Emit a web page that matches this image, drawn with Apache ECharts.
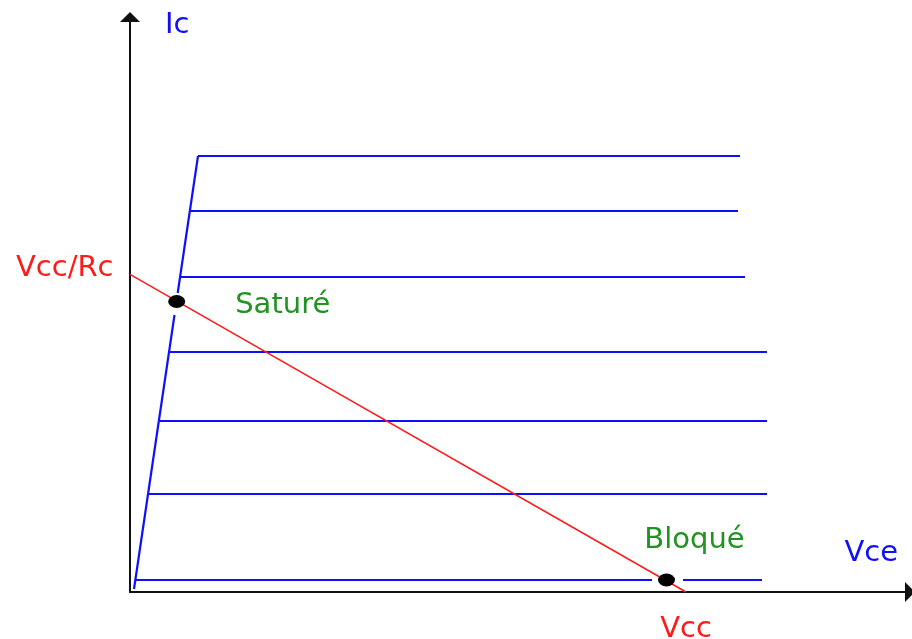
<!DOCTYPE html>
<html>
<head>
<meta charset="utf-8">
<script src="https://cdn.jsdelivr.net/npm/echarts@6/dist/echarts.min.js"></script>
<style>
  html, body { margin: 0; padding: 0; background: #fff; }
  #chart { width: 912px; height: 639px; }
</style>
</head>
<body>
<div id="chart"></div>
<script>
// units: x = Vce, y = Ic (arbitrary)
var slopeLow = [[4, 3], [44.5, 277]];     // saturation edge, below the dot
var slopeHigh = [[47.7, 299], [68, 436]]; // saturation edge, above the dot
var curveIc = [436, 381, 315, 240, 171, 98, 12];
var curveStart = [68, 60, 50, 38, 30, 18, 5];
var curveEnd = [610, 608, 615, 637, 637, 637, 632];
var bottomGap = [522, 553];               // bottom curve is cut around the Bloqué dot

var loadLine = [[0, 317.7], [556, 0]];
var loadLabels = ['Vcc/Rc', 'Vcc'];
var points = [[46.7, 290.5], [536.5, 12]];
var pointNames = ['Saturé', 'Bloqué'];

var BLUE = '#0f0fff';
var RED = '#ff1a1a';
var GREEN = '#219321';
var FONT = 'DejaVu Sans';
var FS = 29;

var chartDom = document.getElementById('chart');
var myChart = echarts.init(chartDom);

var series = [];

function blueLine(data) {
  series.push({
    type: 'line',
    data: data,
    symbol: 'none',
    silent: true,
    lineStyle: { color: BLUE, width: 2.2 },
    z: 2
  });
}

blueLine(slopeLow);
blueLine(slopeHigh);
for (var i = 0; i < curveIc.length; i++) {
  if (i === curveIc.length - 1) {
    blueLine([[curveStart[i], curveIc[i]], [bottomGap[0], curveIc[i]]]);
    blueLine([[bottomGap[1], curveIc[i]], [curveEnd[i], curveIc[i]]]);
  } else {
    blueLine([[curveStart[i], curveIc[i]], [curveEnd[i], curveIc[i]]]);
  }
}

// droite de charge
series.push({
  type: 'line',
  data: loadLine.map(function (p, k) {
    return {
      value: p,
      label: k === 0
        ? { show: true, position: 'left', distance: 16, offset: [0, -6], formatter: loadLabels[0] }
        : { show: true, position: 'bottom', distance: 22, formatter: loadLabels[1] }
    };
  }),
  symbol: 'circle',
  symbolSize: 1,
  itemStyle: { color: RED, opacity: 0 },
  label: { color: RED, fontFamily: FONT, fontSize: FS, opacity: 1 },
  lineStyle: { color: RED, width: 1.5 },
  silent: true,
  z: 3
});

series.push({
  type: 'scatter',
  clip: false,
  data: points.map(function (p, k) {
    return {
      value: p,
      name: pointNames[k],
      label: k === 0
        ? { position: 'right', distance: 50, offset: [0, 4] }
        : { position: 'top', distance: 19, offset: [28, 0] }
    };
  }),
  symbol: 'circle',
  symbolSize: [17, 13],
  itemStyle: { color: '#000', opacity: 1 },
  label: {
    show: true,
    formatter: '{b}',
    color: GREEN,
    fontFamily: FONT,
    fontSize: FS
  },
  silent: true,
  z: 4
});

var option = {
  animation: false,
  backgroundColor: '#fff',
  grid: { left: 130, right: 2, top: 17, bottom: 47 },
  xAxis: {
    type: 'value',
    min: 0,
    max: 780,
    name: 'Vce',
    nameLocation: 'end',
    nameGap: -12,
    nameTextStyle: {
      color: BLUE, fontFamily: FONT, fontSize: FS,
      align: 'right', verticalAlign: 'bottom', padding: [0, 0, 24, 0]
    },
    axisLine: {
      onZero: false,
      symbol: ['none', 'triangle'],
      symbolSize: [20, 10],
      lineStyle: { color: '#111', width: 2 }
    },
    axisTick: { show: false },
    axisLabel: { show: false },
    splitLine: { show: false }
  },
  yAxis: {
    type: 'value',
    min: 0,
    max: 575,
    name: 'Ic',
    nameLocation: 'end',
    nameGap: -23,
    nameTextStyle: {
      color: BLUE, fontFamily: FONT, fontSize: FS,
      align: 'left', verticalAlign: 'bottom', padding: [0, 0, 0, 35]
    },
    axisLine: {
      onZero: false,
      symbol: ['none', 'triangle'],
      symbolSize: [20, 10],
      lineStyle: { color: '#111', width: 2 }
    },
    axisTick: { show: false },
    axisLabel: { show: false },
    splitLine: { show: false }
  },
  series: series
};

myChart.setOption(option);
</script>
</body>
</html>
